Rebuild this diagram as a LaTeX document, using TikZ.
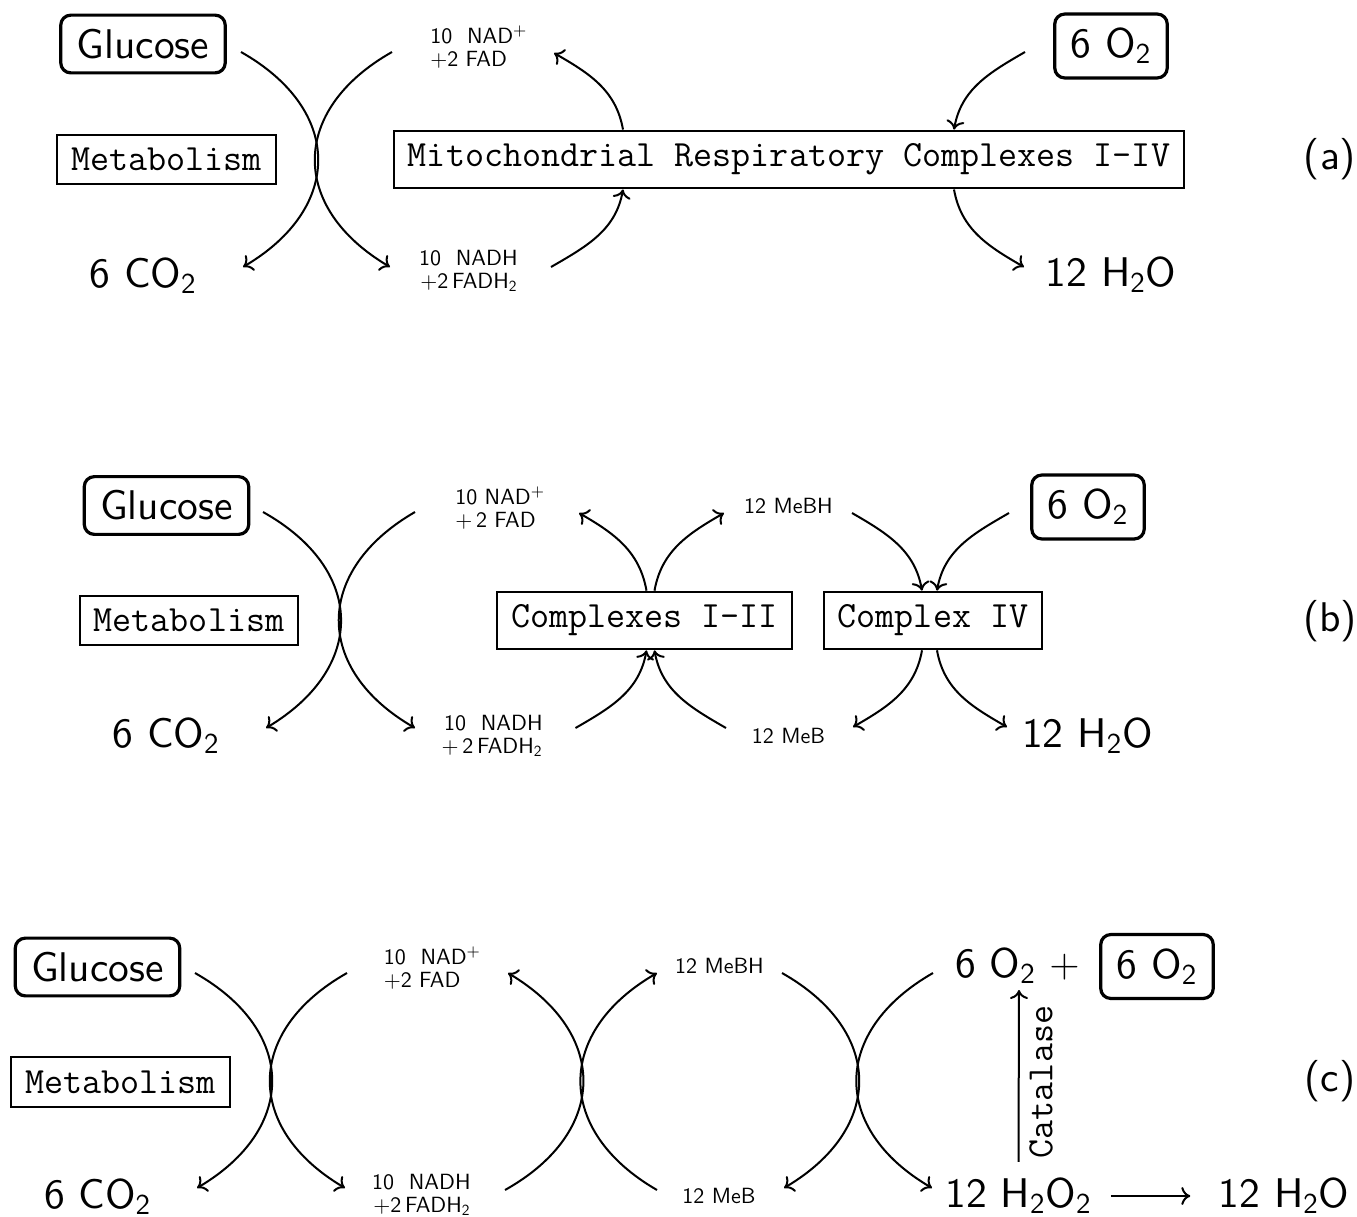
\documentclass[tikz,border=0pt]{standalone}
\usetikzlibrary{arrows.meta}
\DeclareFontFamily{TU}{lmsst}{}
\DeclareFontShape{TU}{lmsst}{m}{n}{<-> "[lmsans10-regular]:mapping=tex-text"}{}
\newcommand\lmsten{\fontfamily{lmsst}\selectfont}
\tikzset{
  x=0.5pt, y=0.5pt,
  sf/.style={font=\fontsize{20.74}{24}\lmsten, inner sep=0pt},
  lbl/.style={font=\fontsize{11}{11.5}\lmsten, align=left, inner sep=0pt},
  ttbox/.style={draw, line width=1pt, font=\fontsize{18.5}{22}\ttfamily, inner xsep=7pt, inner ysep=6.6pt},
  rbox/.style={draw, rounded corners=5pt, line width=1.6pt, font=\fontsize{20.74}{24}\lmsten, inner xsep=8pt, inner ysep=7pt},
  arr/.style={line width=1pt, -{To[length=4.5pt,width=9pt]}},
  bl/.style={arr, bend left=60, looseness=1.39},
  br/.style={arr, bend right=60, looseness=1.39},
}
\begin{document}
\begin{tikzpicture}
\useasboundingbox (0,0) rectangle (1357,-1217);
% ---------------- (a)
\node[rbox] (aglu) at (143,-44) {Glucose};
\node[ttbox] (amet) at (166.5,-159.5) {Metabolism};
\node[sf, anchor=base] (aco2) at (143,-287) {6 CO\textsubscript{2}};
\node[lbl, anchor=base west] (anad) at (430,-66) {10~~NAD$^+$\\$+$2 FAD};
\node[lbl, align=right, anchor=base east] (anadh) at (518,-288) {10~~NADH\\$+$2\,FADH\textsubscript{2}};
\node[ttbox] (amrc) at (789,-159.5) {Mitochondrial Respiratory Complexes I-IV};
\node[rbox] (ao2) at (1111,-46) {6 O\textsubscript{2}};
\node[sf, anchor=base] (ah2o) at (1111,-286) {12 H\textsubscript{2}O};
\node[sf] (alab) at (1330,-159) {(a)};
\coordinate (a1s) at (241,-52);  \coordinate (a1e) at (243,-267);
\coordinate (a2s) at (392,-52);  \coordinate (a2e) at (390,-267);
\coordinate (a3e) at (554,-53);  \coordinate (a4s) at (551,-267);
\coordinate (a5s) at (1025,-52); \coordinate (a6e) at (1024,-267);
\draw[bl] (a1s) to (a1e);
\draw[br] (a2s) to (a2e);
\draw[arr] ([shift={(-166,0)}]amrc.north) to[out=100,in=-30] (a3e);
\draw[arr] (a4s) to[out=30,in=-100] ([shift={(-166,0)}]amrc.south);
\draw[arr] (a5s) to[out=210,in=80] ([shift={(165,0)}]amrc.north);
\draw[arr] ([shift={(165,0)}]amrc.south) to[out=-80,in=150] (a6e);
% ---------------- (b)
\node[rbox] (bglu) at (166.5,-505.5) {Glucose};
\node[ttbox] (bmet) at (189,-620.5) {Metabolism};
\node[sf, anchor=base] (bco2) at (166,-747) {6 CO\textsubscript{2}};
\node[lbl, anchor=base west] (bnad) at (455,-527) {10 NAD$^+$\\$+$\,2 FAD};
\node[lbl, align=right, anchor=base east] (bnadh) at (543,-753) {10~~NADH\\$+$\,2\,FADH\textsubscript{2}};
\node[ttbox] (bc12) at (644.5,-620.5) {Complexes I-II};
\node[lbl, anchor=base] (bmebh) at (788.5,-513) {12 MeBH};
\node[lbl, anchor=base] (bmeb) at (788.5,-743) {12 MeB};
\node[ttbox] (bc4) at (933,-620.5) {Complex IV};
\node[rbox] (bo2) at (1088,-507) {6 O\textsubscript{2}};
\node[sf, anchor=base] (bh2o) at (1087.5,-747) {12 H\textsubscript{2}O};
\node[sf] (blab) at (1330,-621) {(b)};
\coordinate (b1s) at (263,-512);  \coordinate (b1e) at (266,-728);
\coordinate (b2s) at (415,-512);  \coordinate (b2e) at (415,-728);
\coordinate (b3e) at (579,-513);  \coordinate (b4e) at (724,-513);
\coordinate (b5s) at (575.5,-728); \coordinate (b6s) at (726,-728);
\coordinate (b7s) at (852,-513);  \coordinate (b8s) at (1009,-513);
\coordinate (b9e) at (853,-727);  \coordinate (b10e) at (1007,-727);
\draw[bl] (b1s) to (b1e);
\draw[br] (b2s) to (b2e);
\draw[arr] ([shift={(2,0)}]bc12.north) to[out=100,in=-30] (b3e);
\draw[arr] ([shift={(10,0)}]bc12.north) to[out=80,in=210] (b4e);
\draw[arr] (b5s) to[out=30,in=-100] ([shift={(2,0)}]bc12.south);
\draw[arr] (b6s) to[out=150,in=-80] ([shift={(10,0)}]bc12.south);
\draw[arr] (b7s) to[out=-30,in=100] ([shift={(-11,0)}]bc4.north);
\draw[arr] (b8s) to[out=210,in=80] ([shift={(4,0)}]bc4.north);
\draw[arr] ([shift={(-11,0)}]bc4.south) to[out=-100,in=30] (b9e);
\draw[arr] ([shift={(4,0)}]bc4.south) to[out=-80,in=150] (b10e);
% ---------------- (c)
\node[rbox] (cglu) at (97.5,-967) {Glucose};
\node[ttbox] (cmet) at (120.5,-1082) {Metabolism};
\node[sf, anchor=base] (cco2) at (97.5,-1208) {6 CO\textsubscript{2}};
\node[lbl, anchor=base west] (cnad) at (383.5,-987) {10~~NAD$^+$\\$+$2 FAD};
\node[lbl, align=right, anchor=base east] (cnadh) at (471,-1212) {10~~NADH\\$+$2\,FADH\textsubscript{2}};
\node[lbl, anchor=base] (cmebh) at (719.5,-973) {12 MeBH};
\node[lbl, anchor=base] (cmeb) at (719,-1203) {12 MeB};
\node[sf, anchor=base west] (co2a) at (955,-977) {6 O\textsubscript{2} $+$};
\node[rbox] (co2b) at (1157,-966.5) {6 O\textsubscript{2}};
\node[sf, anchor=base] (ch2o2) at (1018.5,-1207) {12 H\textsubscript{2}O\textsubscript{2}};
\node[sf, anchor=base] (ch2o) at (1284,-1207) {12 H\textsubscript{2}O};
\node[sf] (clab) at (1330,-1081) {(c)};
\node[font=\fontsize{18.5}{22}\ttfamily, rotate=90, inner sep=0pt] (ccatl) at (1041,-1082) {Catalase};
\coordinate (c1s) at (195,-973);  \coordinate (c1e) at (197,-1188);
\coordinate (c2s) at (347,-973);  \coordinate (c2e) at (345,-1188);
\coordinate (c3s) at (505,-1190); \coordinate (c3e) at (508,-973);
\coordinate (c4s) at (657,-1190); \coordinate (c4e) at (657,-973);
\coordinate (c5s) at (782,-973);  \coordinate (c5e) at (784,-1188);
\coordinate (c6s) at (933,-973);  \coordinate (c6e) at (932,-1188);
\coordinate (ccat) at (1019,-990);
\draw[bl] (c1s) to (c1e);
\draw[br] (c2s) to (c2e);
\draw[br] (c3s) to (c3e);
\draw[bl] (c4s) to (c4e);
\draw[bl] (c5s) to (c5e);
\draw[br] (c6s) to (c6e);
\draw[arr] ([shift={(0,15)}]ch2o2.north) -- (ccat);
\draw[arr] ([shift={(19,11)}]ch2o2.base east) -- ([shift={(-28,11)}]ch2o.base west);
\end{tikzpicture}
\end{document}
